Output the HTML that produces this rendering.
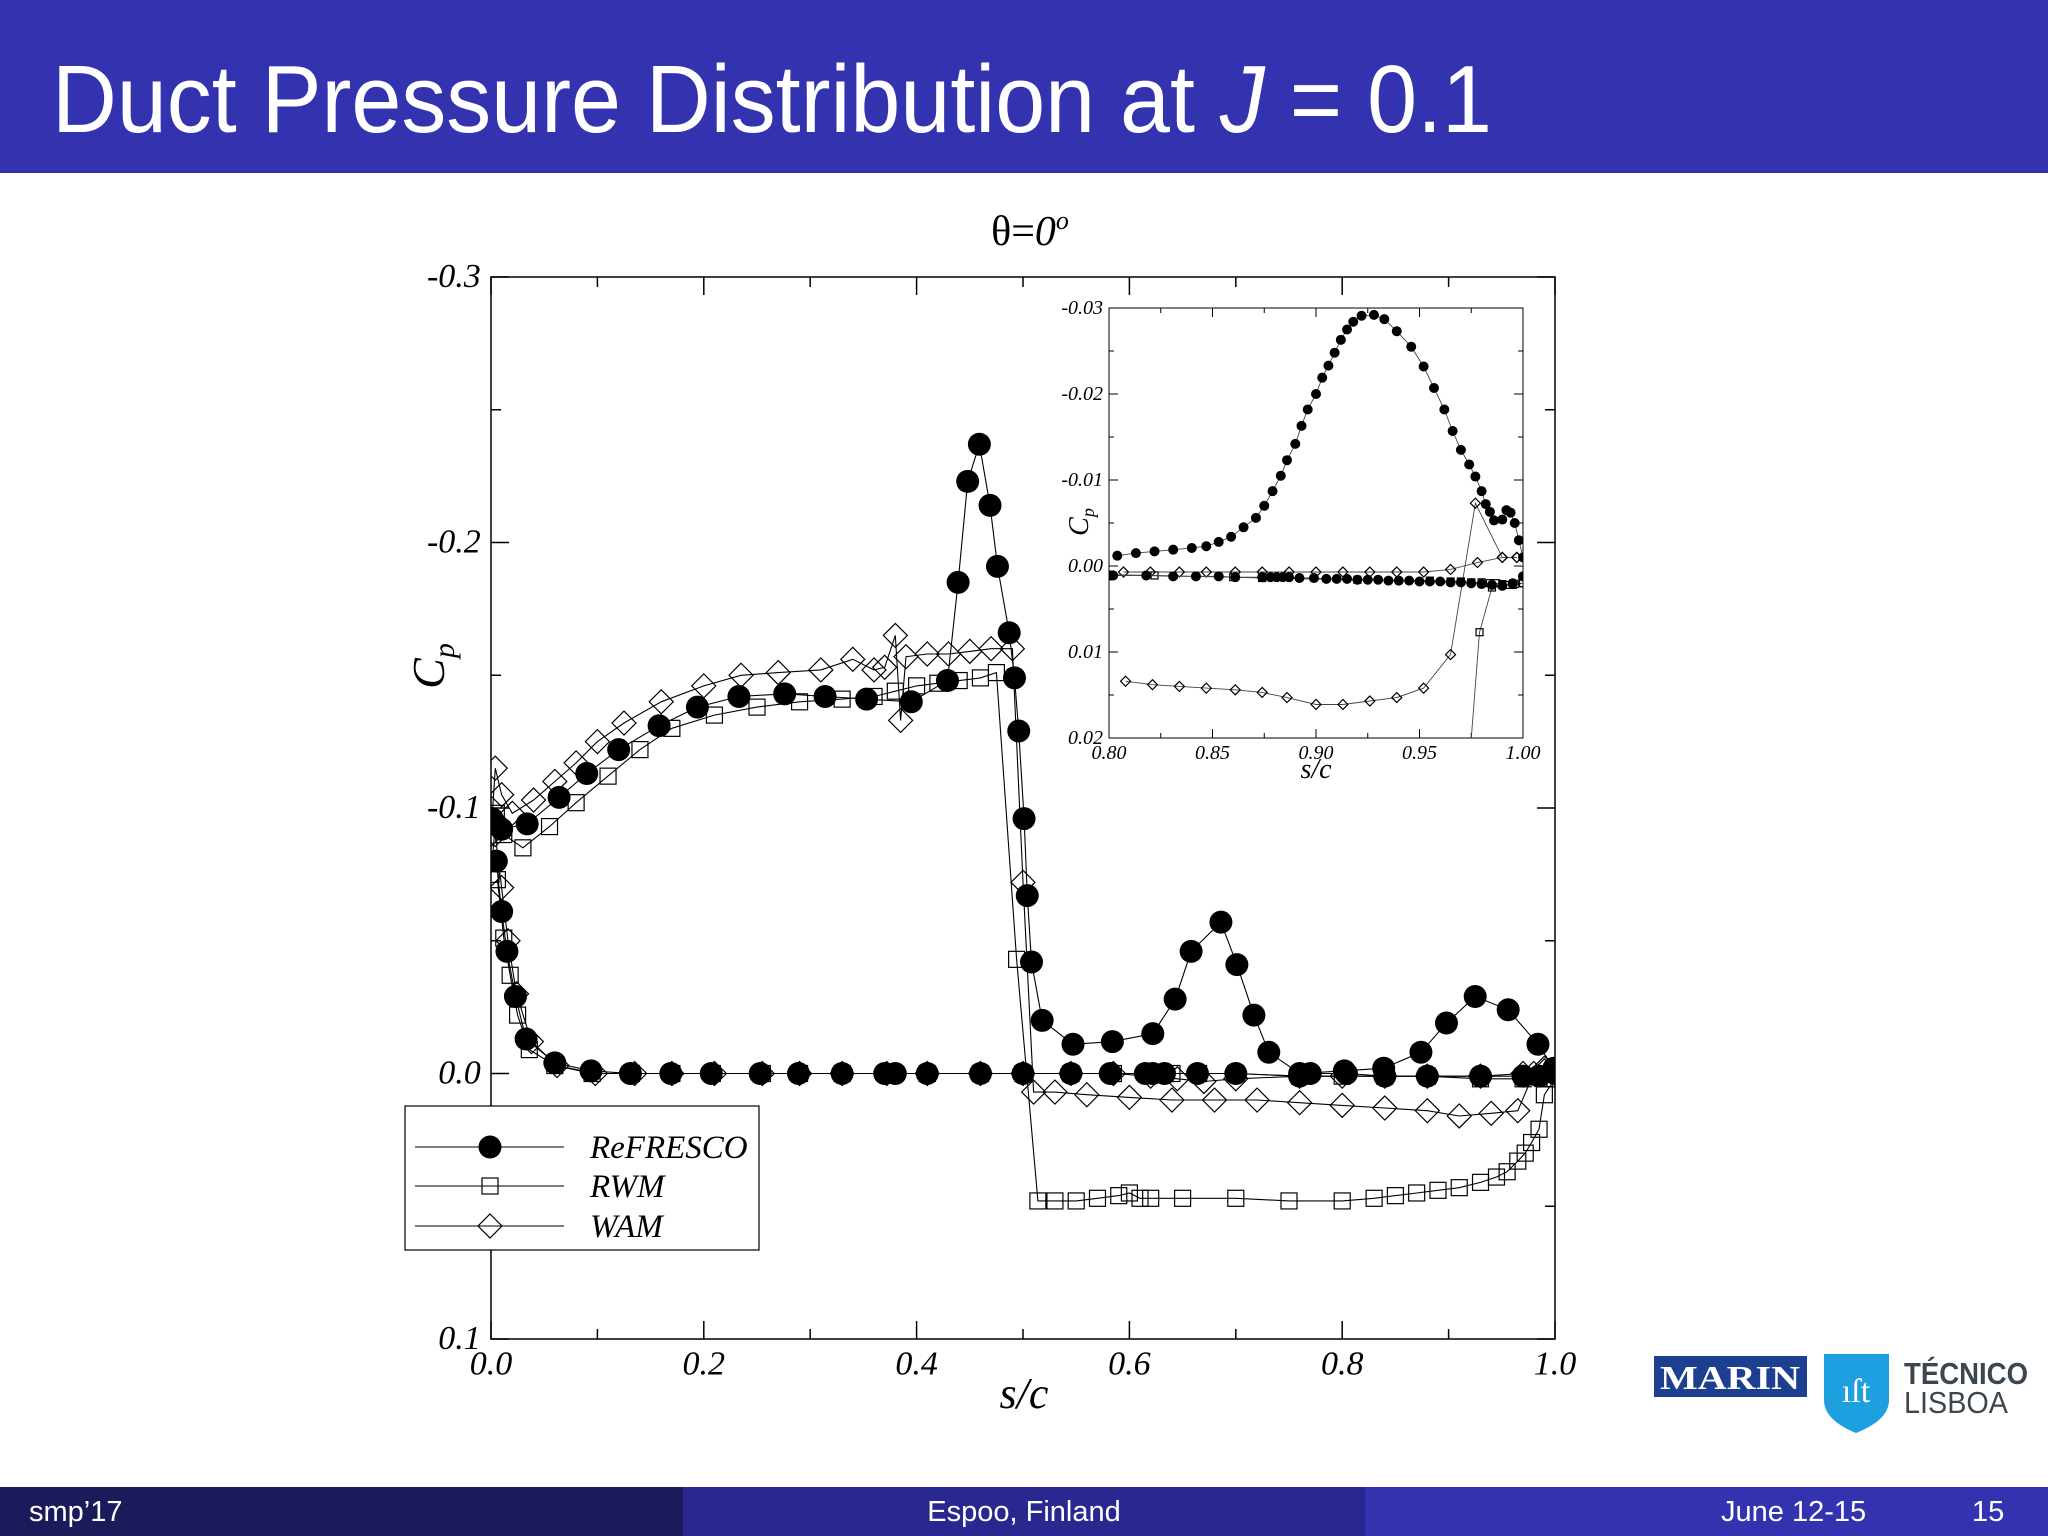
<!DOCTYPE html>
<html><head><meta charset="utf-8"><style>
html,body{margin:0;padding:0;background:#fff;}
svg{display:block;}
</style></head><body>
<svg id="root" width="2048" height="1536" viewBox="0 0 2048 1536" xmlns="http://www.w3.org/2000/svg">
<rect x="0" y="0" width="2048" height="173" fill="#3333b0"/>
<text x="52" y="132" fill="#fff" font-family="Liberation Sans, sans-serif" font-size="96" textLength="1440" lengthAdjust="spacingAndGlyphs">Duct Pressure Distribution at <tspan font-style="italic">J</tspan> = 0.1</text>

<g>
<rect x="0" y="1487" width="683" height="49" fill="#1b1b5c"/>
<rect x="683" y="1487" width="682" height="49" fill="#282890"/>
<rect x="1365" y="1487" width="683" height="49" fill="#3333b0"/>
<text x="29" y="1521" fill="#fff" font-family="Liberation Sans, sans-serif" font-size="29">smp’17</text>
<text x="1024" y="1521" fill="#fff" font-family="Liberation Sans, sans-serif" font-size="29" text-anchor="middle">Espoo, Finland</text>
<text x="1721" y="1521" fill="#fff" font-family="Liberation Sans, sans-serif" font-size="29">June 12-15</text>
<text x="1972" y="1521" fill="#fff" font-family="Liberation Sans, sans-serif" font-size="29">15</text>
</g>

<g>
<rect x="1654" y="1356" width="153" height="41" fill="#1d3f8f"/>
<text x="1730" y="1389" fill="#fff" font-family="Liberation Serif, serif" font-weight="bold" font-size="34" text-anchor="middle" textLength="140" lengthAdjust="spacingAndGlyphs">MARIN</text>
<path d="M1824 1354 H1889 V1400 Q1889 1420 1856 1433 Q1824 1420 1824 1400 Z" fill="#1ea0e0"/>
<text x="1856" y="1402" fill="#fff" font-family="Liberation Serif, serif" font-size="34" text-anchor="middle">ıſt</text>
<text x="1904" y="1384" fill="#3c4650" font-family="Liberation Sans, sans-serif" font-weight="bold" font-size="31" textLength="124" lengthAdjust="spacingAndGlyphs">TÉCNICO</text>
<text x="1904" y="1413" fill="#3c4650" font-family="Liberation Sans, sans-serif" font-size="31" textLength="104" lengthAdjust="spacingAndGlyphs">LISBOA</text>
</g>

<text x="1030" y="245" font-family="Liberation Serif, serif" font-size="42" text-anchor="middle">θ=<tspan font-style="italic">0<tspan font-size="26" dy="-16">o</tspan></tspan></text>

<g id="main"></g>
<g id="inset"></g>
<g id="legend"></g>
</svg>
<script>
// ---- main chart data ----
const refUpperX = [0.001,0.010,0.034,0.064,0.090,0.120,0.158,0.194,0.233,0.276,0.314,0.353,0.395,0.429,0.439,0.448,0.459,0.469,0.476,0.487,0.492,0.496,0.501,0.504,0.508,0.518,0.547,0.584,0.622,0.643,0.658,0.686,0.701,0.717,0.731,0.760,0.802,0.839,0.874,0.898,0.925,0.956,0.984,0.999];
const refUpperCp = [-0.096,-0.092,-0.094,-0.104,-0.113,-0.122,-0.131,-0.138,-0.142,-0.143,-0.142,-0.141,-0.140,-0.148,-0.185,-0.223,-0.237,-0.214,-0.191,-0.166,-0.149,-0.129,-0.096,-0.067,-0.042,-0.020,-0.011,-0.012,-0.015,-0.028,-0.046,-0.057,-0.041,-0.022,-0.008,0.000,-0.001,-0.002,-0.008,-0.019,-0.029,-0.024,-0.011,-0.002];
const refLowerX = [0.005,0.010,0.015,0.023,0.033,0.060,0.094,0.131,0.169,0.207,0.253,0.289,0.330,0.370,0.380,0.410,0.460,0.500,0.545,0.582,0.615,0.622,0.633,0.664,0.700,0.760,0.770,0.804,0.840,0.880,0.930,0.970,0.985,1.000];
const refLowerCp = [-0.080,-0.061,-0.046,-0.029,-0.013,-0.004,-0.001,0.000,0.000,0.000,0.000,0.000,0.000,0.000,0.000,0.000,0.000,0.000,0.000,0.000,0.000,0.000,0.000,0.000,0.000,0.001,0.000,0.000,0.001,0.001,0.001,0.001,0.001,0.000];
const rwmUpperX = [0.000,0.005,0.012,0.030,0.055,0.080,0.110,0.140,0.170,0.210,0.250,0.290,0.330,0.360,0.380,0.400,0.420,0.440,0.460,0.475,0.494,0.514,0.530,0.550,0.570,0.590,0.600,0.610,0.620,0.650,0.700,0.750,0.800,0.830,0.850,0.870,0.890,0.910,0.930,0.945,0.955,0.965,0.972,0.978,0.985,0.990,1.000];
const rwmUpperCp = [-0.075,-0.098,-0.090,-0.085,-0.093,-0.102,-0.112,-0.122,-0.130,-0.135,-0.138,-0.140,-0.141,-0.142,-0.144,-0.146,-0.147,-0.148,-0.149,-0.151,-0.043,0.048,0.048,0.048,0.047,0.046,0.045,0.047,0.047,0.047,0.047,0.048,0.048,0.047,0.046,0.045,0.044,0.043,0.041,0.039,0.037,0.033,0.030,0.026,0.021,0.008,0.002];
const rwmLowerX = [0.006,0.012,0.018,0.025,0.036,0.060,0.095,0.132,0.170,0.208,0.255,0.290,0.330,0.372,0.410,0.460,0.500,0.545,0.585,0.620,0.640,0.665,0.700,0.760,0.800,0.840,0.880,0.930,0.970,0.990,1.000];
const rwmLowerCp = [-0.073,-0.051,-0.037,-0.022,-0.009,-0.003,0.000,0.000,0.000,0.000,0.000,0.000,0.000,0.000,0.000,0.000,0.000,0.000,0.000,0.000,0.000,0.000,0.000,0.001,0.001,0.001,0.001,0.002,0.002,0.002,0.002];
const wamUpperX = [0.000,0.004,0.010,0.020,0.040,0.060,0.080,0.100,0.125,0.160,0.200,0.235,0.270,0.310,0.340,0.360,0.370,0.380,0.385,0.390,0.410,0.430,0.450,0.470,0.490,0.500,0.510,0.530,0.560,0.600,0.640,0.680,0.720,0.760,0.800,0.840,0.880,0.910,0.940,0.965,0.980,0.990,1.000];
const wamUpperCp = [-0.090,-0.115,-0.105,-0.098,-0.103,-0.110,-0.117,-0.125,-0.132,-0.140,-0.146,-0.150,-0.151,-0.152,-0.156,-0.152,-0.153,-0.165,-0.133,-0.157,-0.158,-0.158,-0.159,-0.160,-0.160,-0.072,0.007,0.007,0.008,0.009,0.010,0.010,0.010,0.011,0.012,0.013,0.014,0.016,0.015,0.014,0.000,-0.002,0.000];
const wamLowerX = [0.004,0.010,0.016,0.024,0.038,0.062,0.098,0.135,0.170,0.210,0.255,0.290,0.330,0.372,0.410,0.460,0.500,0.545,0.585,0.620,0.645,0.670,0.700,0.760,0.800,0.840,0.880,0.930,0.970,0.990,1.000];
const wamLowerCp = [-0.090,-0.070,-0.050,-0.030,-0.012,-0.003,0.000,0.000,0.000,0.000,0.000,0.000,0.000,0.000,0.000,0.000,0.000,0.000,0.000,0.001,0.002,0.003,0.002,0.001,0.001,0.001,0.001,0.001,0.000,-0.001,-0.001];
const mainXTicks = [0.0,0.2,0.4,0.6,0.8,1.0];
const mainXTickLabels = ["0.0","0.2","0.4","0.6","0.8","1.0"];
const mainYTicks = [-0.3,-0.2,-0.1,0.0,0.1];
const mainYTickLabels = ["-0.3","-0.2","-0.1","0.0","0.1"];
// ---- inset data ----
const inRefUpperX = [0.804,0.813,0.822,0.831,0.840,0.847,0.853,0.859,0.865,0.871,0.875,0.879,0.883,0.886,0.890,0.893,0.896,0.900,0.903,0.906,0.909,0.912,0.915,0.918,0.922,0.928,0.933,0.939,0.946,0.952,0.957,0.962,0.966,0.970,0.974,0.977,0.980,0.982,0.984,0.986,0.990,0.992,0.994,0.996,0.998,1.000];
const inRefUpperCp = [-0.0012,-0.0015,-0.0017,-0.0019,-0.0021,-0.0023,-0.0028,-0.0034,-0.0045,-0.0056,-0.0070,-0.0087,-0.0105,-0.0123,-0.0142,-0.0163,-0.0182,-0.0200,-0.0219,-0.0233,-0.0248,-0.0263,-0.0275,-0.0284,-0.0291,-0.0292,-0.0287,-0.0273,-0.0255,-0.0232,-0.0207,-0.0182,-0.0157,-0.0135,-0.0118,-0.0104,-0.0087,-0.0072,-0.0063,-0.0053,-0.0054,-0.0065,-0.0062,-0.0050,-0.0030,-0.0010];
const inRefLowerX = [0.801,0.802,0.818,0.831,0.842,0.853,0.861,0.874,0.878,0.881,0.884,0.887,0.892,0.899,0.905,0.910,0.915,0.920,0.925,0.930,0.935,0.940,0.945,0.950,0.955,0.960,0.965,0.970,0.975,0.980,0.985,0.990,0.995,1.000];
const inRefLowerCp = [0.0011,0.0011,0.0011,0.0012,0.0012,0.0012,0.0013,0.0013,0.0013,0.0013,0.0013,0.0013,0.0014,0.0014,0.0015,0.0015,0.0015,0.0016,0.0016,0.0016,0.0017,0.0017,0.0017,0.0018,0.0018,0.0018,0.0019,0.0019,0.0020,0.0021,0.0022,0.0023,0.0020,0.0012];
const inRwmLowerX = [0.800,0.822,0.860,0.874,0.920,0.955,0.965,0.970,0.975,0.980,0.984,0.987,0.990,0.993,0.996,1.000];
const inRwmLowerCp = [0.0010,0.0011,0.0013,0.0014,0.0016,0.0017,0.0018,0.0018,0.0019,0.0019,0.0020,0.0020,0.0021,0.0022,0.0021,0.0020];
const inRwmUpperX = [0.966,0.979,0.985,0.995,1.000];
const inRwmUpperCp = [0.0480,0.0077,0.0025,0.0022,0.0020];
const inWamLowerX = [0.807,0.820,0.834,0.847,0.861,0.874,0.887,0.900,0.913,0.926,0.939,0.952,0.965,0.978,0.990,0.997];
const inWamLowerCp = [0.0007,0.0007,0.0007,0.0007,0.0007,0.0007,0.0007,0.0007,0.0007,0.0007,0.0007,0.0007,0.0004,-0.0004,-0.0010,-0.0010];
const inWamUpperX = [0.808,0.821,0.834,0.847,0.861,0.874,0.886,0.900,0.913,0.926,0.939,0.952,0.965,0.977,0.990,0.997];
const inWamUpperCp = [0.0134,0.0138,0.0140,0.0142,0.0144,0.0147,0.0153,0.0161,0.0161,0.0157,0.0153,0.0142,0.0103,-0.0073,-0.0010,-0.0010];
const inXTicks = [0.80,0.85,0.90,0.95,1.00];
const inXTickLabels = ["0.80","0.85","0.90","0.95","1.00"];
const inYTicks = [-0.03,-0.02,-0.01,0.00,0.01,0.02];
const inYTickLabels = ["-0.03","-0.02","-0.01","0.00","0.01","0.02"];
const legendLabels = ["ReFRESCO","RWM","WAM"];

const NS="http://www.w3.org/2000/svg";
function mk(tag,attrs,parent){const e=document.createElementNS(NS,tag);for(const k in attrs)e.setAttribute(k,attrs[k]);parent.appendChild(e);return e;}

function marker(kind,cx,cy,sz,parent){
  let e;
  if(kind==="dot"){e=mk("circle",{cx:cx,cy:cy,r:sz,fill:"#000"},parent);}
  else if(kind==="sq"){e=mk("rect",{x:cx-sz,y:cy-sz,width:2*sz,height:2*sz,fill:"none",stroke:"#000","stroke-width":1.2},parent);}
  else {e=mk("path",{d:`M${cx} ${cy-sz}L${cx+sz} ${cy}L${cx} ${cy+sz}L${cx-sz} ${cy}Z`,fill:"none",stroke:"#000","stroke-width":1.2},parent);}
  return e;
}
function series(g,xs,ys,X,Y,kind,sz,name,lw,col){
  const sg=mk("g",{},g);
  
  
  const d=xs.map((x,i)=>(i?"L":"M")+X(x).toFixed(1)+" "+Y(ys[i]).toFixed(1)).join("");
  const p=mk("path",{d:d,fill:"none",stroke:col||"#000","stroke-width":lw},sg);
  
  
  xs.forEach((x,i)=>{
    const m=marker(kind,X(x),Y(ys[i]),sz,sg);
    
    
  });
}
function axes(g,L,R,T,B,X,Y,xt,xl,yt,yl,xmin,ymin,xmaj,fs,majLen,minLen,lw,xminStep,yminStep,xr,yr){
  const fr=mk("rect",{x:L,y:T,width:R-L,height:B-T,fill:"#fff",stroke:"#000","stroke-width":lw},g);
  
  
  // minor+major ticks
  for(let v=xr[0];v<=xr[1]+1e-9;v+=xminStep){
    const isMaj=xt.some(t=>Math.abs(t-v)<1e-6);const len=isMaj?majLen:minLen;const x=X(v);
    const t1=mk("line",{x1:x,y1:B,x2:x,y2:B-len,stroke:"#000","stroke-width":lw},g);
    
    
    const t2=mk("line",{x1:x,y1:T,x2:x,y2:T+len,stroke:"#000","stroke-width":lw},g);
    
    
  }
  for(let v=yr[0];v<=yr[1]+1e-9;v+=yminStep){
    const isMaj=yt.some(t=>Math.abs(t-v)<1e-6);const len=isMaj?majLen:minLen;const y=Y(v);
    const t1=mk("line",{x1:L,y1:y,x2:L+len,y2:y,stroke:"#000","stroke-width":lw},g);
    
    
    const t2=mk("line",{x1:R,y1:y,x2:R-len,y2:y,stroke:"#000","stroke-width":lw},g);
    
    
  }
  xt.forEach((v,i)=>{const t=mk("text",{x:X(v),y:B+fs*1.05,"font-family":"Liberation Serif, serif","font-style":"italic","font-size":fs,"text-anchor":"middle"},g);t.textContent=xl[i];
    
    });
  yt.forEach((v,i)=>{const t=mk("text",{x:L-fs*0.3,y:Y(v)+fs*0.3,"font-family":"Liberation Serif, serif","font-style":"italic","font-size":fs,"text-anchor":"end"},g);t.textContent=yl[i];
    
    });
}

// main chart
(function(){
  const g=document.getElementById("main");
  const L=491,R=1555,T=277,B=1339;
  const X=s=>L+(s-0)/(1-0)*(R-L);
  const Y=c=>T+(c-(-0.3))/(0.1-(-0.3))*(B-T);
  axes(g,L,R,T,B,X,Y,mainXTicks,mainXTickLabels,mainYTicks,mainYTickLabels,0,-0.3,0.2,34,18,10,1.5,0.1,0.05,[0,1],[-0.3,0.1]);
  const cp=mk("clipPath",{id:"mclip"},g);mk("rect",{x:L,y:T,width:R-L,height:B-T},cp);
  const d=mk("g",{"clip-path":"url(#mclip)"},g);
  series(d,rwmLowerX,rwmLowerCp,X,Y,"sq",8,"rwm-lower-series",1.1);
  series(d,rwmUpperX,rwmUpperCp,X,Y,"sq",8,"rwm-upper-series",1.1);
  series(d,wamLowerX,wamLowerCp,X,Y,"dia",12,"wam-lower-series",1.1);
  series(d,wamUpperX,wamUpperCp,X,Y,"dia",12,"wam-upper-series",1.1);
  series(d,refLowerX,refLowerCp,X,Y,"dot",11.5,"refresco-lower-series",1.1);
  series(d,refUpperX,refUpperCp,X,Y,"dot",11.5,"refresco-upper-series",1.1);
  const xl=mk("text",{x:1024,y:1408,"font-family":"Liberation Serif, serif","font-style":"italic","font-size":44,"text-anchor":"middle"},g);xl.textContent="s/c";
  
  
  const yl=mk("text",{x:0,y:0,"font-family":"Liberation Serif, serif","font-style":"italic","font-size":46,"text-anchor":"middle",transform:"translate(444,666) rotate(-90)"},g);
  yl.innerHTML='C<tspan font-size="30" dy="10">p</tspan>';
  
  
})();

// inset chart
(function(){
  const g=document.getElementById("inset");
  const L=1109,R=1523,T=308,B=738;
  const X=s=>L+(s-0.8)/(1-0.8)*(R-L);
  const Y=c=>T+(c-(-0.03))/(0.02-(-0.03))*(B-T);
  axes(g,L,R,T,B,X,Y,inXTicks,inXTickLabels,inYTicks,inYTickLabels,0.8,-0.03,0.05,20,9,5,1,0.025,0.005,[0.8,1],[-0.03,0.02]);
  const cp=mk("clipPath",{id:"iclip"},g);mk("rect",{x:L,y:T,width:R-L,height:B-T},cp);
  const d=mk("g",{"clip-path":"url(#iclip)"},g);
  series(d,inWamUpperX,inWamUpperCp,X,Y,"dia",5,"inset-wam-upper-series",0.9,"#444");
  series(d,inWamLowerX,inWamLowerCp,X,Y,"dia",5,"inset-wam-lower-series",0.9,"#444");
  series(d,inRwmUpperX,inRwmUpperCp,X,Y,"sq",3.5,"inset-rwm-upper-series",0.9,"#444");
  series(d,inRwmLowerX,inRwmLowerCp,X,Y,"sq",3.5,"inset-rwm-lower-series",0.9,"#444");
  series(d,inRefLowerX,inRefLowerCp,X,Y,"dot",5,"inset-refresco-lower-series",0.9,"#444");
  series(d,inRefUpperX,inRefUpperCp,X,Y,"dot",5,"inset-refresco-upper-series",0.9,"#444");
  const xl=mk("text",{x:1316,y:778,"font-family":"Liberation Serif, serif","font-style":"italic","font-size":28,"text-anchor":"middle"},g);xl.textContent="s/c";
  
  
  const yl=mk("text",{x:0,y:0,"font-family":"Liberation Serif, serif","font-style":"italic","font-size":28,"text-anchor":"middle",transform:"translate(1088,522) rotate(-90)"},g);
  yl.innerHTML='C<tspan font-size="18" dy="6">p</tspan>';
  
  
})();

// legend
(function(){
  const g=document.getElementById("legend");
  const box=mk("rect",{x:405,y:1106,width:354,height:144,fill:"#fff",stroke:"#000","stroke-width":1.2},g);
  
  
  const kinds=["dot","sq","dia"],sizes=[11.5,8,12],ys=[1147,1186,1226];
  legendLabels.forEach((lab,i)=>{
    const eg=mk("g",{},g);
    
    
    mk("line",{x1:415,y1:ys[i],x2:564,y2:ys[i],stroke:"#000","stroke-width":1.1},eg);
    marker(kinds[i],490,ys[i],sizes[i],eg);
    const t=mk("text",{x:590,y:ys[i]+11,"font-family":"Liberation Serif, serif","font-style":"italic","font-size":33},eg);t.textContent=lab;
  });
})();
</script>
</body></html>
